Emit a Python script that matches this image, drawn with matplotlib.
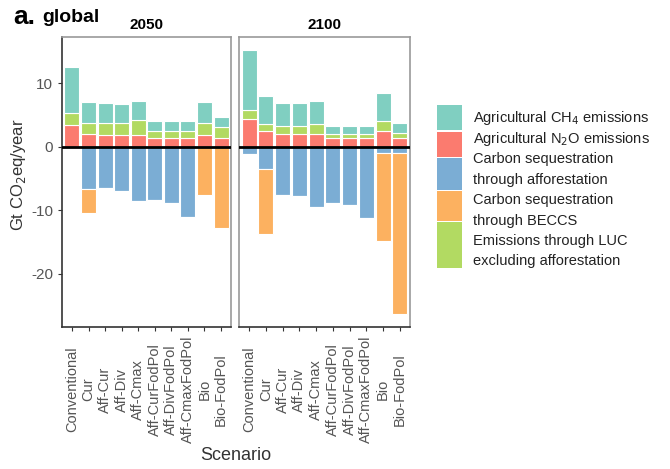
import numpy as np
import matplotlib
matplotlib.use("Agg")
import matplotlib.pyplot as plt
from matplotlib.patches import Rectangle

plt.rcParams['font.family'] = ['Liberation Sans', 'DejaVu Sans']
plt.rcParams['axes.unicode_minus'] = False

scenarios = ["Conventional", "Cur", "Aff-Cur", "Aff-Div", "Aff-Cmax",
             "Aff-CurFodPol", "Aff-DivFodPol", "Aff-CmaxFodPol", "Bio", "Bio-FodPol"]

# 2050 (Gt CO2eq/year)
n2o_2050 = [3.4, 1.95, 1.85, 1.85, 1.85, 1.45, 1.45, 1.45, 1.85, 1.45]
luc_2050 = [1.85, 1.75, 1.95, 1.95, 2.35, 1.0, 1.0, 1.05, 1.95, 1.7]
ch4_2050 = [7.35, 3.4, 3.1, 3.0, 3.05, 1.55, 1.55, 1.5, 3.3, 1.55]
aff_2050 = [0.0, -6.6, -6.55, -6.9, -8.55, -8.35, -8.9, -11.0, 0.0, 0.0]
beccs_2050 = [0.0, -3.9, 0.0, 0.0, 0.0, 0.0, 0.0, 0.0, -7.65, -12.8]

# 2100
n2o_2100 = [4.3, 2.45, 2.05, 2.05, 2.05, 1.4, 1.4, 1.4, 2.5, 1.45]
luc_2100 = [1.5, 1.1, 1.25, 1.3, 1.6, 0.6, 0.6, 0.6, 1.5, 0.65]
ch4_2100 = [9.4, 4.45, 3.6, 3.55, 3.5, 1.3, 1.25, 1.25, 4.5, 1.7]
aff_2100 = [-1.2, -3.55, -7.55, -7.7, -9.45, -8.9, -9.25, -11.3, -1.05, -1.05]
beccs_2100 = [0.0, -10.2, 0.0, 0.0, 0.0, 0.0, 0.0, 0.0, -13.85, -25.35]

years = ["2050", "2100"]
data = {
    "2050": (n2o_2050, luc_2050, ch4_2050, aff_2050, beccs_2050),
    "2100": (n2o_2100, luc_2100, ch4_2100, aff_2100, beccs_2100),
}

c_ch4 = "#80cfc1"
c_n2o = "#fb7b6f"
c_aff = "#7badd4"
c_beccs = "#fcb160"
c_luc = "#b2da62"

fig = plt.figure(figsize=(6.7, 4.69), dpi=100)
W, H = 670, 469
panels = [(62, 231), (239, 410)]
top, bottom = 37, 327

def fx(px):
    return px / W

def fy(py):
    return 1 - py / H

x = np.arange(len(scenarios))
for i, yr in enumerate(years):
    l, r = panels[i]
    ax = fig.add_axes([fx(l), fy(bottom), (r - l) / W, (bottom - top) / H])
    n2o, luc, ch4, aff, beccs = [np.array(v) for v in data[yr]]
    kw = dict(width=0.9, edgecolor="white", linewidth=0.8)
    ax.bar(x, n2o, color=c_n2o, **kw)
    ax.bar(x, luc, bottom=n2o, color=c_luc, **kw)
    ax.bar(x, ch4, bottom=n2o + luc, color=c_ch4, **kw)
    ax.bar(x, aff, color=c_aff, **kw)
    ax.bar(x, beccs, bottom=aff, color=c_beccs, **kw)
    ax.axhline(0, color="black", lw=2, zorder=5)
    ax.set_xlim(-0.6, 9.6)
    ax.set_ylim(-28.4, 17.3)
    ax.set_yticks([10, 0, -10, -20])
    ax.set_xticks(x)
    ax.set_xticklabels(scenarios, rotation=90, color="#555555", fontsize=10.5)
    for lab in ax.get_xticklabels():
        lab.set_va("center")
    ax.tick_params(axis="x", length=3, color="#333333", pad=42)
    ax.set_title(yr, fontweight="bold", fontsize=11, pad=6)
    for s in ["top", "right", "left"]:
        ax.spines[s].set_color("#999999")
        ax.spines[s].set_linewidth(1.2)
    ax.spines["bottom"].set_color("#333333")
    ax.spines["bottom"].set_linewidth(1.2)
    if i == 0:
        ax.spines["left"].set_color("#333333")
        ax.tick_params(axis="y", length=3, color="#333333", labelcolor="#555555",
                       labelsize=11)
    else:
        ax.tick_params(axis="y", left=False, labelleft=False)

fig.text(fx(19), fy(175), "Gt CO$_2$eq/year", rotation=90, ha="center",
         va="center", fontsize=12, color="#333333")
fig.text(fx(236), fy(455), "Scenario", ha="center", va="center",
         fontsize=13, color="#333333")
fig.text(fx(13), fy(17), "a.", ha="left", va="center", fontsize=19,
         fontweight="bold")
fig.text(fx(42), fy(17), "global", ha="left", va="center", fontsize=14,
         fontweight="bold")

# legend drawn by hand so that two-line entries get taller keys
key_colors = [c_ch4, c_n2o, c_aff, c_beccs, c_luc]
key_rows = [(105, 130), (132, 157), (158, 190), (191, 221), (222, 268)]
for c, (y0, y1) in zip(key_colors, key_rows):
    fig.patches.append(Rectangle((fx(437), fy(y1)), 25 / W, (y1 - y0) / H,
                                 transform=fig.transFigure, facecolor=c,
                                 edgecolor="none"))
legend_lines = ["Agricultural CH$_4$ emissions",
                "Agricultural N$_2$O emissions",
                "Carbon sequestration",
                "through afforestation",
                "Carbon sequestration",
                "through BECCS",
                "Emissions through LUC",
                "excluding afforestation"]
for k, txt in enumerate(legend_lines):
    fig.text(fx(473), fy(118 + 20.5 * k), txt, ha="left", va="center",
             fontsize=10.5, color="#222222")

fig.savefig("out.png", dpi=100)
